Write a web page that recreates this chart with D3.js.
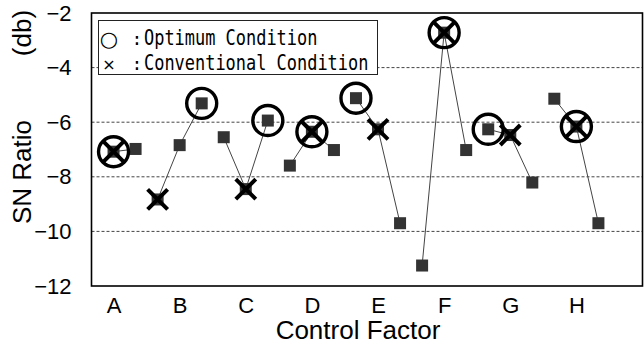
<!DOCTYPE html>
<html>
<head>
<meta charset="utf-8">
<script src="https://cdn.jsdelivr.net/npm/d3@7/dist/d3.min.js"></script>
<style>
  html, body { margin: 0; padding: 0; background: #fff; }
  svg { display: block; }
</style>
</head>
<body>
<svg id="chart" width="644" height="348"></svg>
<script>
// Control factors and SN ratio (db) for each of their levels
const factors = ["A", "B", "C", "D", "E", "F", "G", "H"];
const snA = [-7.08, -6.98];
const snB = [-8.83, -6.84, -5.31];
const snC = [-6.55, -8.45, -5.94];
const snD = [-7.59, -6.35, -7.02];
const snE = [-5.12, -6.26, -9.70];
const snF = [-11.25, -2.72, -7.02];
const snG = [-6.26, -6.47, -8.21];
const snH = [-5.14, -6.16, -9.70];
// Chosen level per factor (1-based)
const optimumLevel = [1, 3, 3, 2, 1, 2, 1, 2];
const conventionalLevel = [1, 1, 2, 2, 2, 2, 2, 2];
const yTicks = [-12, -10, -8, -6, -4, -2];
const gridTicks = [-10, -8, -6, -4];
const legendItems = [
  { symbol: "○", label: "Optimum Condition" },
  { symbol: "×", label: "Conventional Condition" }
];

const levels = [snA, snB, snC, snD, snE, snF, snG, snH];

// Flatten into sequential points
const points = [];
const groups = [];
let idx = 0;
levels.forEach((vals, fi) => {
  const g = [];
  vals.forEach((v, li) => {
    const p = { factor: factors[fi], level: li + 1, value: v, index: idx++,
      optimum: optimumLevel[fi] === li + 1, conventional: conventionalLevel[fi] === li + 1 };
    points.push(p);
    g.push(p);
  });
  groups.push(g);
});
const labelIndex = groups.map(g => g[Math.floor((g.length - 1) / 2)].index);

const svg = d3.select("#chart");
const plot = { left: 91.5, right: 642.5, top: 13, bottom: 286 };

const x = d3.scaleLinear().domain([-1, points.length + 1]).range([plot.left, plot.right]);
const y = d3.scaleLinear().domain([-12, -2]).range([plot.bottom, plot.top]);

const sans = "'Liberation Sans', Arial, sans-serif";
const mono = "'DejaVu Sans Mono', monospace";

// Dashed grid
svg.append("g").selectAll("line").data(gridTicks).join("line")
  .attr("x1", plot.left).attr("x2", plot.right)
  .attr("y1", d => y(d)).attr("y2", d => y(d))
  .attr("stroke", "#444").attr("stroke-width", 1)
  .attr("stroke-dasharray", "3,2");

// Y axis labels
const yAxis = svg.append("g")
  .attr("transform", `translate(${plot.left},0)`)
  .call(d3.axisLeft(y).tickValues(yTicks).tickSize(0).tickPadding(20));
yAxis.select(".domain").remove();
yAxis.selectAll("text").attr("font-family", sans).attr("font-size", 22).attr("fill", "#000");

// X axis labels
const xAxis = svg.append("g")
  .attr("transform", `translate(0,${plot.bottom})`)
  .call(d3.axisBottom(x).tickValues(labelIndex).tickSize(0).tickPadding(11)
    .tickFormat((d, i) => factors[i]));
xAxis.select(".domain").remove();
xAxis.selectAll("text").attr("font-family", sans).attr("font-size", 22).attr("fill", "#000");

// Axis titles
svg.append("text")
  .attr("x", (plot.left + plot.right) / 2 - 9).attr("y", 339)
  .attr("text-anchor", "middle")
  .attr("font-family", sans).attr("font-size", 26)
  .text("Control Factor");
svg.append("text")
  .attr("transform", "translate(31,172) rotate(-90)")
  .attr("text-anchor", "middle")
  .attr("font-family", sans).attr("font-size", 26)
  .text("SN Ratio");
svg.append("text")
  .attr("transform", "translate(31,33) rotate(-90)")
  .attr("text-anchor", "middle")
  .attr("font-family", sans).attr("font-size", 26)
  .text("(db)");

// Plot frame
svg.append("rect")
  .attr("x", plot.left).attr("y", plot.top)
  .attr("width", plot.right - plot.left).attr("height", plot.bottom - plot.top)
  .attr("fill", "none").attr("stroke", "#000").attr("stroke-width", 1.6);

// Lines joining levels of each factor
const line = d3.line().x(d => x(d.index)).y(d => y(d.value));
svg.append("g").selectAll("path").data(groups).join("path")
  .attr("d", line).attr("fill", "none")
  .attr("stroke", "#444").attr("stroke-width", 1);

// Level markers
const sq = 12;
svg.append("g").selectAll("rect").data(points).join("rect")
  .attr("x", d => x(d.index) - sq / 2).attr("y", d => y(d.value) - sq / 2)
  .attr("width", sq).attr("height", sq).attr("fill", "#333");

// Conventional condition crosses
const cr = 10;
svg.append("g").selectAll("path").data(points.filter(d => d.conventional)).join("path")
  .attr("d", d => {
    const cx = x(d.index), cy = y(d.value);
    return `M${cx - cr},${cy - cr}L${cx + cr},${cy + cr}M${cx - cr},${cy + cr}L${cx + cr},${cy - cr}`;
  })
  .attr("stroke", "#000").attr("stroke-width", 4).attr("fill", "none");

// Optimum condition circles
svg.append("g").selectAll("circle").data(points.filter(d => d.optimum)).join("circle")
  .attr("cx", d => x(d.index)).attr("cy", d => y(d.value)).attr("r", 15)
  .attr("fill", "none").attr("stroke", "#000").attr("stroke-width", 3.4);

// Legend
const legend = svg.append("g");
legend.append("rect")
  .attr("x", 98.5).attr("y", 20.5).attr("width", 279).attr("height", 54)
  .attr("fill", "#fff").attr("stroke", "#222").attr("stroke-width", 1);
const rows = legend.selectAll("g.row").data(legendItems).join("g")
  .attr("class", "row")
  .attr("transform", (d, i) => `translate(0,${45 + i * 25})`);
rows.append("text")
  .attr("x", 109).attr("text-anchor", "middle")
  .attr("dy", (d, i) => i === 0 ? 1 : 0)
  .attr("font-family", "'DejaVu Sans', sans-serif")
  .attr("font-size", (d, i) => i === 0 ? 21 : 16)
  .attr("font-weight", (d, i) => i === 0 ? "bold" : "normal")
  .text(d => d.symbol);
rows.append("text")
  .attr("x", 137).attr("text-anchor", "middle")
  .attr("font-family", mono).attr("font-size", 18)
  .text(":");
rows.append("text")
  .attr("x", 144)
  .attr("font-family", mono).attr("font-size", 21)
  .attr("textLength", d => d.label.length * 10.2)
  .attr("lengthAdjust", "spacingAndGlyphs")
  .text(d => d.label);
</script>
</body>
</html>
